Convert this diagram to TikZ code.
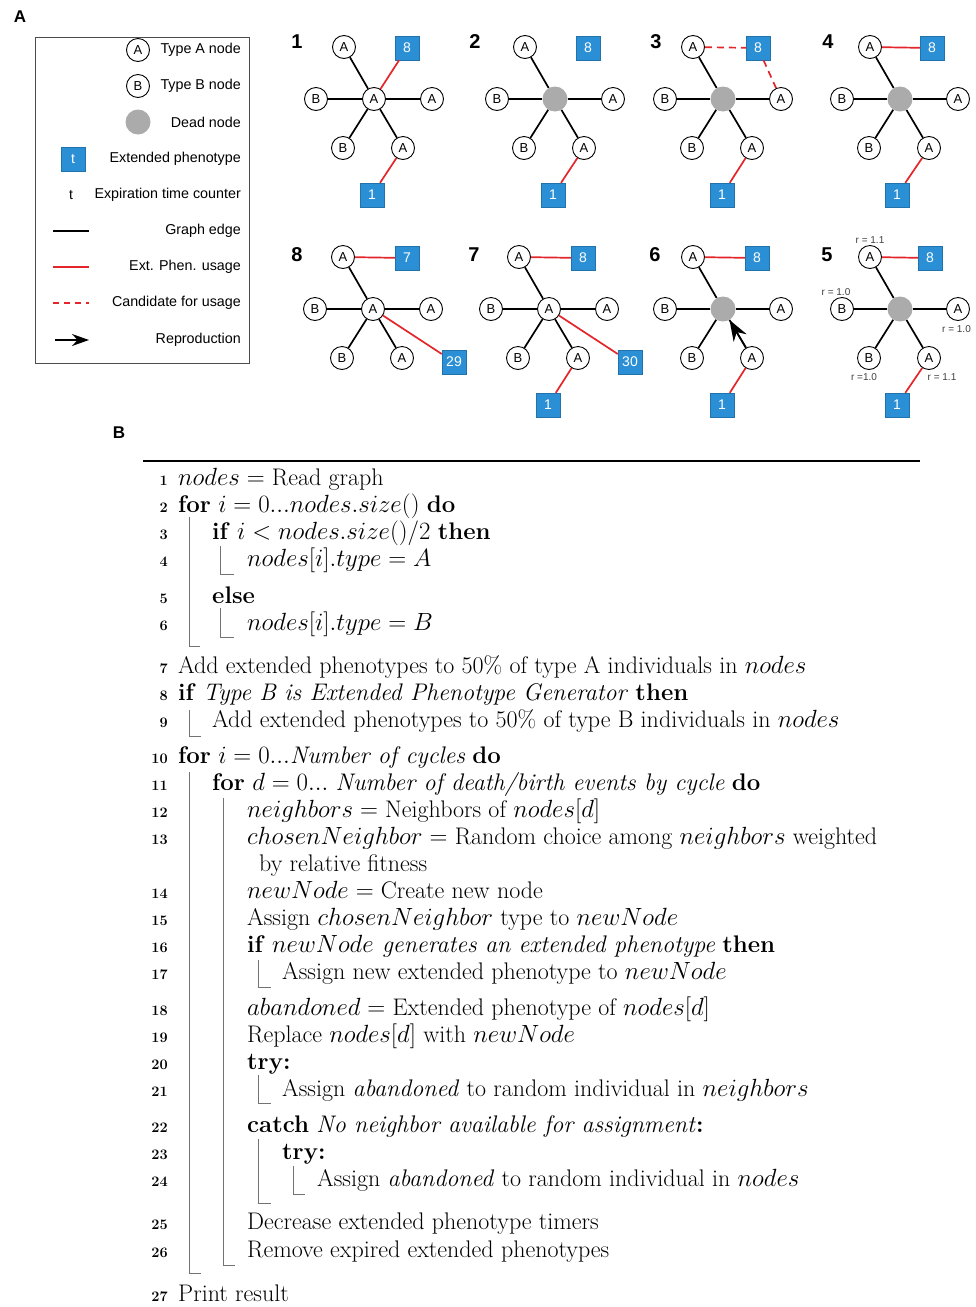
\documentclass[tikz,border=0pt]{standalone}
\usepackage{amsmath}
\usepackage{fontspec}
\setsansfont{Liberation Sans}
\usepackage{tikz}
\usetikzlibrary{arrows.meta}
\usepackage{xcolor}

\definecolor{ephblue}{HTML}{2B8FD6}
\definecolor{deadgray}{HTML}{ABABAB}
\definecolor{usered}{HTML}{E4262B}

\tikzset{
  gnode/.style={circle, draw, line width=0.9pt, fill=white, minimum size=23pt, inner sep=0pt, font=\sffamily\fontsize{13}{13}\selectfont},
  dead/.style={circle, fill=deadgray, minimum size=25pt, inner sep=0pt},
  ephen/.style={rectangle, fill=ephblue, draw=ephblue!80!black, line width=0.4pt, minimum size=24pt, inner sep=0pt, text=white, font=\sffamily\fontsize{14}{14}\selectfont},
  gedge/.style={line width=1.7pt, black},
  uedge/.style={line width=1.7pt, usered},
  cedge/.style={uedge, dash pattern=on 7pt off 5pt},
  reprod/.style={line width=1.7pt, -{Stealth[length=21pt,width=15pt]}},
  plabel/.style={font=\sffamily\bfseries\fontsize{20}{20}\selectfont},
  slabel/.style={font=\sffamily\bfseries\fontsize{17}{17}\selectfont},
  rlabel/.style={font=\sffamily\fontsize{10}{10}\selectfont, text=black!75, inner sep=0pt},
  legtext/.style={anchor=east, inner sep=0pt, font=\sffamily\fontsize{14.3}{14.3}\selectfont},
  algo/.style={anchor=base west, inner sep=0pt, font=\fontsize{24}{29}\selectfont},
  lnum/.style={anchor=base east, inner sep=0pt, font=\bfseries\fontsize{14.5}{15}\selectfont},
  abar/.style={black!55, line width=0.8pt},
}

% star shaped neighbourhood: prefix, centre, centre style, centre text
\newcommand{\graphstar}[4]{%
  \begin{scope}[shift={(#2)}]
    \node[#3] (#1c) at (0,0) {#4};
    \node[gnode] (#1tl) at (-30,-52) {A};
    \node[gnode] (#1l) at (-58,0) {B};
    \node[gnode] (#1r) at (58,0) {A};
    \node[gnode] (#1bl) at (-31,49) {B};
    \node[gnode] (#1br) at (29,49) {A};
  \end{scope}
  \draw[gedge] (#1c) -- (#1tl);
  \draw[gedge] (#1c) -- (#1l);
  \draw[gedge] (#1c) -- (#1r);
  \draw[gedge] (#1c) -- (#1bl);
  \draw[gedge] (#1c) -- (#1br);
}

\newcommand{\algline}[4]{%
  \node[lnum] (n#1) at (168,#3) {#1};
  \node[algo] (l#1) at (#2,#3) {#4};
}

\begin{document}
\begin{tikzpicture}[x=1pt, y=-1pt]
	\useasboundingbox (0,0) rectangle (975,1307);

	% panel A: legend
	\node[slabel] (secA) at (20,17) {A};
	\draw[line width=1pt, black!70] (35,37) rectangle (249,363);
	\node[gnode] (legA) at (138,50) {A};
	\node[legtext] at (241,50) {Type A node};
	\node[gnode] (legB) at (138,86) {B};
	\node[legtext] at (241,86) {Type B node};
	\node[dead] (legD) at (138,122) {};
	\node[legtext] at (241,122) {Dead node};
	\node[ephen] (legE) at (73,159) {t};
	\node[legtext] at (241,159) {Extended phenotype};
	\node[font=\sffamily\fontsize{14}{14}\selectfont] (legT) at (71,195) {t};
	\node[legtext] at (241,195) {Expiration time counter};
	\draw[gedge] (53,231) -- (89,231);
	\node[legtext] at (241,231) {Graph edge};
	\draw[uedge] (53,267) -- (89,267);
	\node[legtext] at (241,267) {Ext. Phen. usage};
	\draw[cedge, dash pattern=on 6pt off 5pt] (53,303) -- (89,303);
	\node[legtext] at (241,303) {Candidate for usage};
	\draw[line width=1.5pt, -{Stealth[length=17pt,width=12pt]}] (55,340) -- (89,340);
	\node[legtext] at (241,340) {Reproduction};

	% top row
	\node[plabel] at (297,42) {1};
	\graphstar{p1}{374,99}{gnode}{A}
	\node[ephen] (p1e8) at (407,48) {8};
	\node[ephen] (p1e1) at (372,195) {1};
	\draw[uedge] (p1c) -- (p1e8);
	\draw[uedge] (p1br) -- (p1e1);

	\node[plabel] at (475,42) {2};
	\graphstar{p2}{555,99}{dead}{}
	\node[ephen] (p2e8) at (588,48) {8};
	\node[ephen] (p2e1) at (553,195) {1};
	\draw[uedge] (p2br) -- (p2e1);

	\node[plabel] at (656,42) {3};
	\graphstar{p3}{723,99}{dead}{}
	\node[ephen] (p3e8) at (758,48) {8};
	\node[ephen] (p3e1) at (722,195) {1};
	\draw[cedge] (p3tl) -- (p3e8);
	\draw[cedge] (p3e8) -- (p3r);
	\draw[uedge] (p3br) -- (p3e1);

	\node[plabel] at (828,42) {4};
	\graphstar{p4}{900,99}{dead}{}
	\node[ephen] (p4e8) at (932,48) {8};
	\node[ephen] (p4e1) at (897,195) {1};
	\draw[uedge] (p4tl) -- (p4e8);
	\draw[uedge] (p4br) -- (p4e1);

	% bottom row
	\node[plabel] at (297,255) {8};
	\graphstar{p8}{373,309}{gnode}{A}
	\node[ephen] (p8e7) at (407,258) {7};
	\node[ephen] (p8e29) at (454,362) {29};
	\draw[uedge] (p8tl) -- (p8e7);
	\draw[uedge] (p8c) -- (p8e29);

	\node[plabel] at (474,255) {7};
	\graphstar{p7}{549,309}{gnode}{A}
	\node[ephen] (p7e8) at (583,258) {8};
	\node[ephen] (p7e30) at (630,362) {30};
	\node[ephen] (p7e1) at (548,405) {1};
	\draw[uedge] (p7tl) -- (p7e8);
	\draw[uedge] (p7c) -- (p7e30);
	\draw[uedge] (p7br) -- (p7e1);

	\node[plabel] at (655,255) {6};
	\graphstar{p6}{723,309}{dead}{}
	\node[ephen] (p6e8) at (757,258) {8};
	\node[ephen] (p6e1) at (722,405) {1};
	\draw[uedge] (p6tl) -- (p6e8);
	\draw[uedge] (p6br) -- (p6e1);
	\draw[reprod] (p6br) -- (p6c);

	\node[plabel] at (827,255) {5};
	\graphstar{p5}{900,309}{dead}{}
	\node[ephen] (p5e8) at (930,258) {8};
	\node[ephen] (p5e1) at (897,405) {1};
	\draw[uedge] (p5tl) -- (p5e8);
	\draw[uedge] (p5br) -- (p5e1);
	\node[rlabel] (r1) at (870,240) {r = 1.1};
	\node[rlabel] (r2) at (836,292) {r = 1.0};
	\node[rlabel, anchor=west] (r3) at (942,329) {r = 1.0};
	\node[rlabel] (r4) at (864,377) {r =1.0};
	\node[rlabel] (r5) at (942,377) {r = 1.1};

	% panel B: algorithm
	\node[slabel] (secB) at (119,433) {B};
	\draw[line width=1.2pt] (143,461) -- (920,461);
	\algline{1}{178}{485}{$nodes =$ Read graph}
	\algline{2}{178}{512}{\textbf{for} $i = 0...nodes.size()$ \textbf{do}}
	\algline{3}{212}{539}{\textbf{if} $i < nodes.size()/2$ \textbf{then}}
	\algline{4}{247}{566}{$nodes[i].type = A$}
	\algline{5}{212}{603}{\textbf{else}}
	\algline{6}{247}{630}{$nodes[i].type = B$}
	\algline{7}{178}{673}{Add extended phenotypes to 50\% of type A individuals in $nodes$}
	\algline{8}{178}{700}{\textbf{if} \textit{Type B is Extended Phenotype Generator} \textbf{then}}
	\algline{9}{212}{727}{Add extended phenotypes to 50\% of type B individuals in $nodes$}
	\algline{10}{178}{763}{\textbf{for} $i = 0...$\textit{Number of cycles} \textbf{do}}
	\algline{11}{212}{790}{\textbf{for} $d = 0...$ \textit{Number of death/birth events by cycle} \textbf{do}}
	\algline{12}{247}{817}{$neighbors =$ Neighbors of $nodes[d]$}
	\algline{13}{247}{844}{$chosenNeighbor =$ Random choice among $neighbors$ weighted}
	\node[algo] (l13b) at (259,871) {by relative fitness};
	\algline{14}{247}{898}{$newNode =$ Create new node}
	\algline{15}{247}{925}{Assign $chosenNeighbor$ type to $newNode$}
	\algline{16}{247}{952}{\textbf{if} \textit{$newNode$ generates an extended phenotype} \textbf{then}}
	\algline{17}{282}{979}{Assign new extended phenotype to $newNode$}
	\algline{18}{247}{1015}{$abandoned =$ Extended phenotype of $nodes[d]$}
	\algline{19}{247}{1042}{Replace $nodes[d]$ with $newNode$}
	\algline{20}{247}{1069}{\textbf{try:}}
	\algline{21}{282}{1096}{Assign \textit{abandoned} to random individual in $neighbors$}
	\algline{22}{247}{1132}{\textbf{catch} \textit{No neighbor available for assignment}\textbf{:}}
	\algline{23}{282}{1159}{\textbf{try:}}
	\algline{24}{317}{1186}{Assign \textit{abandoned} to random individual in $nodes$}
	\algline{25}{247}{1229}{Decrease extended phenotype timers}
	\algline{26}{247}{1257}{Remove expired extended phenotypes}
	\algline{27}{178}{1301}{Print result}

	% block bars
	\draw[abar] (189,517) -- (189,646) -- (200,646);
	\draw[abar] (220,546) -- (220,574) -- (234,574);
	\draw[abar] (220,608) -- (220,637) -- (234,637);
	\draw[abar] (189,710) -- (189,736) -- (201,736);
	\draw[abar] (189,772) -- (189,1273) -- (201,1273);
	\draw[abar] (223,798) -- (223,1265) -- (235,1265);
	\draw[abar] (258,960) -- (258,987) -- (271,987);
	\draw[abar] (258,1075) -- (258,1103) -- (271,1103);
	\draw[abar] (258,1139) -- (258,1203) -- (271,1203);
	\draw[abar] (293,1166) -- (293,1194) -- (305,1194);
\end{tikzpicture}
\end{document}
